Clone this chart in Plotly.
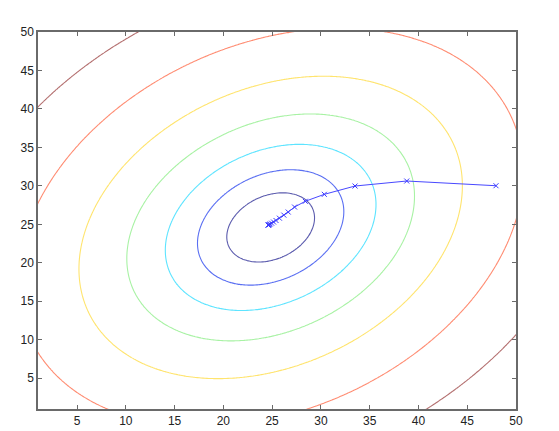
import numpy as np
import plotly.graph_objects as go

# Quadratic cost surface parameters (read from the ellipses)
center_x = 24.85
center_y = 24.6
coef_xx = 1.0
coef_xy = -0.55
coef_yy = 1.0

# Contour levels (innermost to outermost) and their colours
levels = [18.7, 52.0, 107.8, 201.0, 357.0, 620.0, 1020.0]
level_colors = ["#5c5cae", "#5a6ff2", "#5ee4ff", "#a8f2a4", "#ffe46e", "#ff8c72", "#b47070"]

# Gradient-descent path
path_x = [47.95, 38.8, 33.5, 30.35, 28.4, 27.3, 26.65, 26.2, 25.75, 25.4, 25.15, 24.95, 24.8, 24.7, 24.65, 24.6, 24.6]
path_y = [30.02, 30.63, 29.98, 28.9, 28.0, 27.25, 26.6, 26.2, 25.8, 25.5, 25.3, 25.15, 25.05, 24.98, 24.93, 24.9, 24.9]

tick_vals = [5, 10, 15, 20, 25, 30, 35, 40, 45, 50]

gx = np.linspace(0, 51, 260)
gy = np.linspace(0, 51, 260)
GX, GY = np.meshgrid(gx, gy)
DX = GX - center_x
DY = GY - center_y
Z = coef_xx * DX**2 + coef_xy * DX * DY + coef_yy * DY**2

fig = go.Figure()
for lev, col in zip(levels, level_colors):
    fig.add_trace(go.Contour(
        x=gx, y=gy, z=Z,
        autocontour=False,
        contours=dict(start=lev, end=lev, size=1, coloring="none"),
        line=dict(color=col, width=1.1),
        showscale=False, hoverinfo="skip",
    ))

fig.add_trace(go.Scatter(
    x=path_x, y=path_y, mode="lines+markers",
    line=dict(color="#4848ff", width=1),
    marker=dict(symbol="x-thin", size=5, line=dict(width=1, color="#3a3aff"), color="#3a3aff"),
    showlegend=False,
))

axis_common = dict(
    tickvals=tick_vals,
    ticks="inside", ticklen=4, tickwidth=1, tickcolor="#6a6a6a",
    showline=True, linecolor="#6a6a6a", linewidth=1.5, mirror="ticks",
    showgrid=False, zeroline=False, automargin=False,
    tickfont=dict(family="Liberation Sans, Arial, sans-serif", size=12, color="#222222"),
)

fig.update_layout(
    width=559, height=431,
    margin=dict(l=30, r=51, t=24, b=30),
    paper_bgcolor="white", plot_bgcolor="white",
    showlegend=False,
    xaxis=dict(range=[1, 50], **axis_common),
    yaxis=dict(range=[1, 50], **axis_common),
)

fig.write_html("out.html")
